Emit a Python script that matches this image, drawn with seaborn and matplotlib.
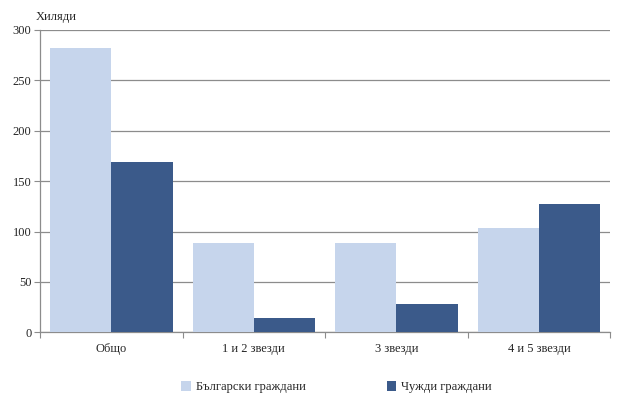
import pandas as pd
import numpy as np
import matplotlib
matplotlib.use("Agg")
import matplotlib.pyplot as plt
import seaborn as sns

# Values (thousands)
categories = ['Общо', '1 и 2 звезди', '3 звезди', '4 и 5 звезди']
bulgarians = [282, 89, 89, 103]
foreigners = [169, 14, 28, 127]
series = ['Български граждани', 'Чужди граждани']
colors = ['#c6d5ec', '#3b5a8a']

df = pd.DataFrame({
    'cat': categories * 2,
    'value': bulgarians + foreigners,
    'who': [series[0]] * 4 + [series[1]] * 4,
})

sns.set_style('white')
plt.rcParams['font.family'] = ['Liberation Serif', 'DejaVu Serif']

fig, ax = plt.subplots(figsize=(6.24, 3.98), dpi=100)
fig.subplots_adjust(left=0.064, right=0.978, top=0.925, bottom=0.165)

sns.barplot(data=df, x='cat', y='value', hue='who', palette=colors,
            width=0.86, saturation=1, linewidth=0, ax=ax, zorder=3)

ax.set_ylim(0, 300)
ax.set_xlim(-0.5, 3.5)
ax.set_yticks(range(0, 301, 50))
ax.yaxis.grid(True, color='#8c8c8c', linewidth=0.9, zorder=0)
ax.set_axisbelow(True)
for s in ['top', 'right']:
    ax.spines[s].set_visible(False)
for s in ['left', 'bottom']:
    ax.spines[s].set_color('#8c8c8c')
    ax.spines[s].set_linewidth(0.9)

ax.set_xlabel('')
ax.set_ylabel('')
ax.tick_params(axis='y', which='both', left=True, length=4, color='#8c8c8c',
               labelsize=9, pad=2)
# x ticks on category boundaries
ax.set_xticks(np.arange(-0.5, 4, 1), minor=False)
ax.set_xticklabels([])
ax.set_xticks(range(len(categories)), minor=True)
ax.set_xticklabels(categories, minor=True, fontsize=9)
ax.tick_params(axis='x', which='major', bottom=True, length=4, color='#8c8c8c')
ax.tick_params(axis='x', which='minor', bottom=False, pad=6)

fig.text(0.058, 0.958, 'Хиляди', fontsize=9, ha='left', va='center')

handles, labels = ax.get_legend_handles_labels()
ax.legend(handles, labels, loc='upper center', bbox_to_anchor=(0.52, -0.125),
          ncol=2, frameon=False, fontsize=9, handlelength=0.75, handleheight=0.75,
          columnspacing=6.5, handletextpad=0.4)

fig.savefig('out.png', dpi=100)
